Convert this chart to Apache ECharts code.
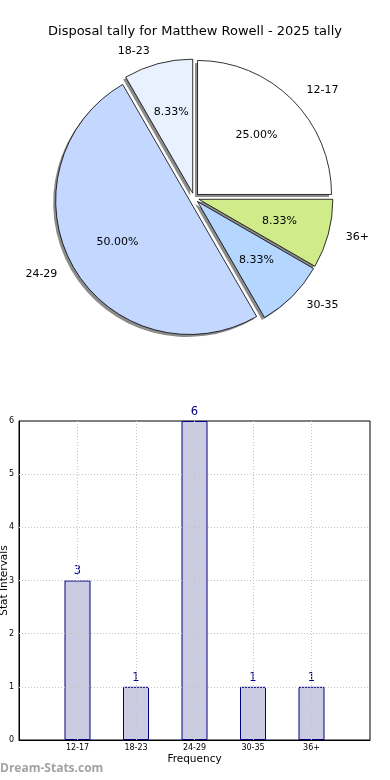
<!DOCTYPE html>
<html><head><meta charset="utf-8">
<script src="https://cdn.jsdelivr.net/npm/echarts@6/dist/echarts.min.js"></script>
<style>html,body{margin:0;padding:0;background:#fff}#c{width:390px;height:780px}</style>
</head><body><div id="c"></div>
<script>
const titleText = 'Disposal tally for Matthew Rowell - 2025 tally';
const categories = ['12-17', '18-23', '24-29', '30-35', '36+'];
const counts = [3, 1, 6, 1, 1];
const sliceColors = ['#ffffff', '#eaf1fe', '#c4d8ff', '#b4d6ff', '#cfeb8a'];
const yTicks = [0, 1, 2, 3, 4, 5, 6];
const xAxisName = 'Frequency';
const yAxisName = 'Stat Intervals';
const watermark = 'Dream-Stats.com';

const F = 'DejaVu Sans';
const R = 134;
const center = [194, 198];
const shadowCenter = [center[0] - 2.5, center[1] + 2.5];
const total = counts.reduce((a, b) => a + b, 0);
const pieData = categories.map((c, i) => ({
  name: c, value: counts[i], selected: true,
  itemStyle: { color: sliceColors[i] }
}));
const plainData = categories.map((c, i) => ({ name: c, value: counts[i], selected: true }));

const pieCommon = {
  type: 'pie', startAngle: 0, clockwise: false,
  selectedMode: 'multiple', selectedOffset: 5,
  avoidLabelOverlap: false, emphasis: { disabled: true }
};
const gridLineStyle = { color: '#c4c4c4', type: [1, 2], width: 1 };
const gridLines = categories.map((c, i) => ({ xAxis: i + 1 }))
  .concat(yTicks.slice(1, -1).map(v => ({ yAxis: v })));

const chart = echarts.init(document.getElementById('c'), null, { renderer: 'canvas' });
chart.setOption({
  animation: false,
  backgroundColor: '#fff',
  title: {
    text: titleText, left: 'center', top: 20,
    textStyle: { fontFamily: F, fontSize: 13, fontWeight: 'normal', color: '#000' }
  },
  graphic: [{
    type: 'text', left: 0, top: 763,
    style: { text: watermark, fontFamily: 'Open Sans', fontWeight: 'bold', fontSize: 12, fill: '#a3a3a3' }
  }],
  grid: { left: 19, right: 20, top: 421, bottom: 40, outerBoundsMode: 'none', containLabel: false, show: true, borderColor: '#000', borderWidth: 1, backgroundColor: 'transparent' },
  xAxis: {
    type: 'value', min: 0, max: 6, interval: 1,
    name: xAxisName, nameLocation: 'middle', nameGap: 14, nameMoveOverlap: false,
    nameTextStyle: { fontFamily: F, fontSize: 10.5, color: '#000' },
    axisLine: { show: true, lineStyle: { color: '#000' } },
    axisTick: { show: false },
    axisLabel: {
      fontFamily: F, fontSize: 8, color: '#000', margin: 4,
      formatter: v => (v >= 1 && v <= categories.length) ? categories[v - 1] : ''
    },
    splitLine: { show: false }
  },
  yAxis: {
    type: 'value', min: yTicks[0], max: yTicks[yTicks.length - 1], interval: 1,
    name: yAxisName, nameLocation: 'middle', nameGap: 9, nameMoveOverlap: false,
    nameTextStyle: { fontFamily: F, fontSize: 10.5, color: '#000' },
    axisLine: { show: true, lineStyle: { color: '#000' } },
    axisTick: { show: false },
    axisLabel: { fontFamily: F, fontSize: 8, color: '#000', margin: 5 },
    splitLine: { show: false }
  },
  series: [Object.assign({}, pieCommon, {
    center: shadowCenter, radius: [0, R], silent: true, z: 1,
    itemStyle: { color: '#8c8c8c', borderWidth: 0 },
    label: { show: false }, labelLine: { show: false },
    data: plainData
  }), Object.assign({}, pieCommon, {
    center: center, radius: [0, R], z: 2,
    itemStyle: { borderColor: '#000', borderWidth: 0.8 },
    select: { itemStyle: { borderColor: '#000', borderWidth: 0.8 } },
    label: { show: true, position: 'outside', fontFamily: F, fontSize: 11, color: '#000' },
    labelLine: { show: false, length: 13, length2: 0 },
    data: pieData
  }), Object.assign({}, pieCommon, {
    center: center, radius: [R * 0.2, R], silent: true, z: 3,
    itemStyle: { color: 'rgba(0,0,0,0)', borderWidth: 0 },
    select: { itemStyle: { color: 'rgba(0,0,0,0)', borderWidth: 0 } },
    label: {
      show: true, position: 'inside', fontFamily: F, fontSize: 11, color: '#000',
      formatter: p => (p.value / total * 100).toFixed(2) + '%'
    },
    labelLine: { show: false },
    data: plainData
  }), {
    type: 'bar', barWidth: 26, z: 2,
    itemStyle: { color: '#cbcbe2', borderColor: '#000080', borderWidth: 1 },
    label: { show: true, position: 'top', distance: 3, fontFamily: F, fontSize: 11.5, color: '#000080' },
    emphasis: { disabled: true },
    data: categories.map((c, i) => [i + 1, counts[i]]),
    markLine: {
      silent: true, symbol: 'none', label: { show: false }, z: 5,
      lineStyle: gridLineStyle, emphasis: { disabled: true },
      data: gridLines
    }
  }]
});
</script></body></html>
